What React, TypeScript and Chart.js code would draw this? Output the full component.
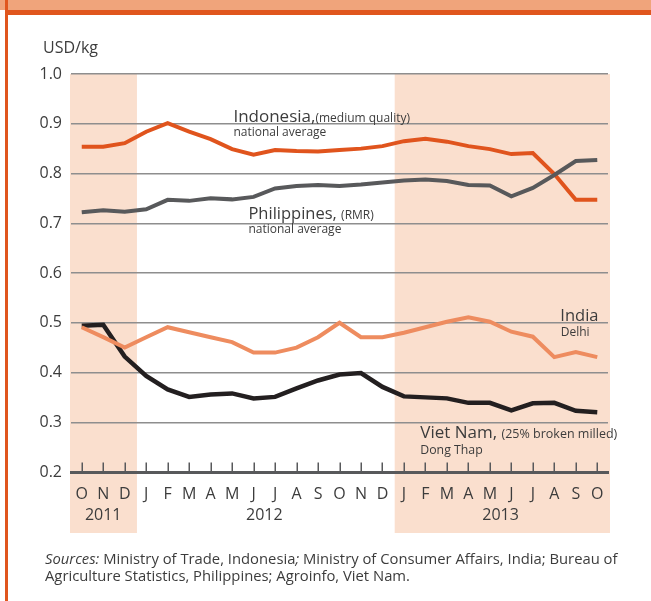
import React, { useEffect, useRef } from 'react';
import { Chart, registerables } from 'chart.js';

Chart.register(...registerables);

// ---------- data ----------
const months = ['O', 'N', 'D', 'J', 'F', 'M', 'A', 'M', 'J', 'J', 'A', 'S', 'O', 'N', 'D', 'J', 'F', 'M', 'A', 'M', 'J', 'J', 'A', 'S', 'O'];
const yearLabels = ['2011', '2012', '2013'];
const yearFirstIndex = [0, 3, 15];
const yearLastIndex = [2, 14, 24];
const shadedYears = [true, false, true];
const yTickValues = [0.2, 0.3, 0.4, 0.5, 0.6, 0.7, 0.8, 0.9, 1.0];

const indonesia = [0.854, 0.854, 0.861, 0.884, 0.901, 0.884, 0.869, 0.849, 0.838, 0.847, 0.845, 0.844, 0.847, 0.850, 0.855, 0.865, 0.870, 0.864, 0.855, 0.849, 0.839, 0.841, 0.799, 0.747, 0.747];
const philippines = [0.722, 0.726, 0.723, 0.728, 0.747, 0.745, 0.750, 0.748, 0.753, 0.770, 0.775, 0.777, 0.775, 0.778, 0.782, 0.786, 0.788, 0.785, 0.777, 0.776, 0.754, 0.771, 0.797, 0.825, 0.827];
const india = [0.491, 0.471, 0.450, 0.471, 0.491, 0.481, 0.471, 0.461, 0.440, 0.440, 0.450, 0.471, 0.500, 0.471, 0.471, 0.480, 0.491, 0.502, 0.511, 0.502, 0.482, 0.472, 0.431, 0.441, 0.431];
const vietNam = [0.494, 0.496, 0.432, 0.393, 0.366, 0.351, 0.356, 0.358, 0.348, 0.351, 0.368, 0.384, 0.396, 0.399, 0.371, 0.352, 0.350, 0.348, 0.339, 0.339, 0.324, 0.338, 0.339, 0.323, 0.320];

// ---------- styles ----------
const FONT = '"Open Sans", "Noto Sans", sans-serif';
const TEXT = '#3c3c3c';
const BAND = '#FADFCE';
const C_INDO = '#E0541D';
const C_PHIL = '#58595B';
const C_INDIA = '#EE8C5F';
const C_VIET = '#231F20';

type Part = [string, number];
const annotations: { idx: number; val: number; parts: Part[] }[] = [
  { idx: 7.06, val: 0.904, parts: [['Indonesia,', 17], ['(medium quality)', 12]] },
  { idx: 7.06, val: 0.875, parts: [['national average', 12]] },
  { idx: 7.76, val: 0.709, parts: [['Philippines, ', 16.5], ['(RMR)', 12]] },
  { idx: 7.76, val: 0.680, parts: [['national average', 12]] },
  { idx: 22.28, val: 0.504, parts: [['India', 16.5]] },
  { idx: 22.3, val: 0.473, parts: [['Delhi', 12]] },
  { idx: 15.76, val: 0.268, parts: [['Viet Nam, ', 17], ['(25% broken milled)', 12.5]] },
  { idx: 15.76, val: 0.236, parts: [['Dong Thap', 12.3]] },
];

const decorPlugin = {
  id: 'decor',
  beforeDraw(chart: any) {
    const { ctx, chartArea } = chart;
    const x = chart.scales.x;
    const last = months.length - 1;
    ctx.save();
    ctx.fillStyle = BAND;
    yearLabels.forEach((_, i) => {
      if (!shadedYears[i]) return;
      const s = yearFirstIndex[i];
      const e = yearLastIndex[i];
      const left = s === 0 ? chartArea.left - 1 : (x.getPixelForValue(s - 1) + x.getPixelForValue(s)) / 2 + 1.5;
      const right = e === last ? chartArea.right + 2 : (x.getPixelForValue(e) + x.getPixelForValue(e + 1)) / 2 + 1.5;
      ctx.fillRect(left, chartArea.top, right - left, x.bottom - chartArea.top);
    });
    ctx.restore();
  },
  beforeDatasetsDraw(chart: any) {
    const { ctx, chartArea } = chart;
    const x = chart.scales.x;
    ctx.save();
    ctx.strokeStyle = C_PHIL;
    ctx.lineWidth = 1.5;
    months.forEach((_, i) => {
      const px = Math.round(x.getPixelForValue(i)) + 0.25;
      ctx.beginPath();
      ctx.moveTo(px, chartArea.bottom - 9.5);
      ctx.lineTo(px, chartArea.bottom);
      ctx.stroke();
    });
    // year labels
    ctx.fillStyle = TEXT;
    ctx.font = `16px ${FONT}`;
    ctx.textAlign = 'center';
    ctx.textBaseline = 'middle';
    yearLabels.forEach((lbl, i) => {
      const cx = (x.getPixelForValue(yearFirstIndex[i]) + x.getPixelForValue(yearLastIndex[i])) / 2;
      ctx.fillText(lbl, cx, chartArea.bottom + 43);
    });
    ctx.restore();
  },
  afterDatasetsDraw(chart: any) {
    const { ctx } = chart;
    const x = chart.scales.x;
    const y = chart.scales.y;
    const step = x.getPixelForValue(1) - x.getPixelForValue(0);
    ctx.save();
    ctx.fillStyle = TEXT;
    ctx.textAlign = 'left';
    ctx.textBaseline = 'alphabetic';
    annotations.forEach((a) => {
      let px = x.getPixelForValue(0) + a.idx * step;
      const py = y.getPixelForValue(a.val);
      a.parts.forEach(([t, size]) => {
        ctx.font = `${size}px ${FONT}`;
        ctx.fillText(t, px, py);
        px += ctx.measureText(t).width;
      });
    });
    ctx.restore();
  },
};

function LineChart() {
  const ref = useRef<HTMLCanvasElement | null>(null);
  useEffect(() => {
    if (!ref.current) return;
    const line = (data: number[], color: string, w: number) => ({
      data,
      borderColor: color,
      backgroundColor: color,
      borderWidth: w,
      pointRadius: 0,
      pointHoverRadius: 0,
      tension: 0,
      fill: false,
      borderJoinStyle: 'miter' as const,
    });
    const chart = new Chart(ref.current, {
      type: 'line',
      data: {
        labels: months,
        datasets: [
          line(india, C_INDIA, 4),
          line(vietNam, C_VIET, 4.5),
          line(philippines, C_PHIL, 4),
          line(indonesia, C_INDO, 4),
        ],
      },
      options: {
        animation: false,
        responsive: false,
        maintainAspectRatio: false,
        events: [],
        layout: { padding: { left: 0, top: 74, right: 43, bottom: 68 } },
        plugins: { legend: { display: false }, tooltip: { enabled: false }, title: { display: false } },
        scales: {
          x: {
            type: 'category',
            offset: true,
            grid: { display: false, drawTicks: false },
            border: { display: true, color: C_PHIL, width: 3 },
            ticks: {
              autoSkip: false,
              maxRotation: 0,
              minRotation: 0,
              padding: 13,
              color: TEXT,
              font: { family: FONT, size: 16 },
            },
            afterFit: (s: any) => { s.height = 61; },
          },
          y: {
            min: 0.2,
            max: 1.0,
            afterBuildTicks: (s: any) => { s.ticks = yTickValues.map((v) => ({ value: v })); },
            grid: { color: '#8e8e8e', lineWidth: 1.5, drawTicks: false },
            border: { display: false },
            ticks: {
              padding: 9,
              color: TEXT,
              font: { family: FONT, size: 16 },
              callback: (v: any) => Number(v).toFixed(1),
            },
            afterFit: (s: any) => { s.width = 71; },
          },
        },
      },
      plugins: [decorPlugin],
    });
    return () => chart.destroy();
  }, []);
  return <canvas ref={ref} width={651} height={601} style={{ position: 'absolute', left: 0, top: 0, width: 651, height: 601 }} />;
}

export default function App() {
  return (
    <div style={{ position: 'absolute', left: 0, top: 0, width: 651, height: 601, background: '#fff', overflow: 'hidden', fontFamily: FONT }}>
      <LineChart />
      <div style={{ position: 'absolute', left: 0, top: 0, width: 651, height: 10, background: '#F0A47B' }} />
      <div style={{ position: 'absolute', left: 5, top: 10, width: 646, height: 5, background: '#E0561E' }} />
      <div style={{ position: 'absolute', left: 5, top: 0, width: 3, height: 601, background: '#E0561E' }} />
      <div style={{ position: 'absolute', left: 43, top: 37, fontSize: 16, lineHeight: '20px', color: TEXT, whiteSpace: 'nowrap' }}>USD/kg</div>
      <div style={{ position: 'absolute', left: 45, top: 550, width: 600, fontSize: 14.8, lineHeight: '17px', color: TEXT, whiteSpace: 'nowrap' }}>
        <i>Sources:</i> Ministry of Trade, Indonesia<i>;</i> Ministry of Consumer Affairs, India; Bureau of<br />
        Agriculture Statistics, Philippines; Agroinfo, Viet Nam.
      </div>
    </div>
  );
}
